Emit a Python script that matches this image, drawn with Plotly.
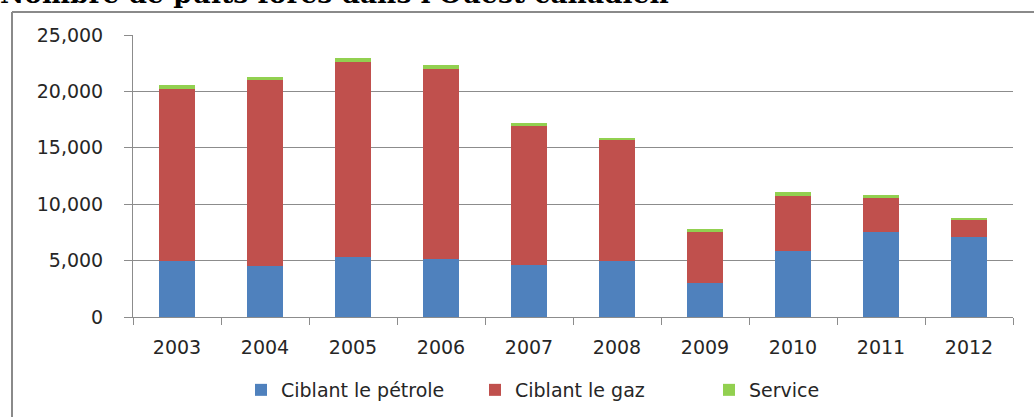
import plotly.graph_objects as go

years = ["2003", "2004", "2005", "2006", "2007", "2008", "2009", "2010", "2011", "2012"]
oil = [4950, 4550, 5300, 5150, 4650, 4950, 3050, 5850, 7550, 7050]
gas = [15250, 16500, 17300, 16800, 12250, 10700, 4450, 4850, 3000, 1550]
service = [370, 240, 350, 390, 290, 260, 270, 380, 270, 90]
series_names = ["Ciblant le pétrole", "Ciblant le gaz", "Service"]
colors = ["#4F81BD", "#C0504D", "#92D050"]
title = "Nombre de puits forés dans l'Ouest canadien"

W, H = 1034, 417
L, R, T, B = 133, 21, 35, 100
pw, ph = W - L - R, H - T - B

def px_x(x):
    return (x - L) / pw

def px_y(y):
    return (H - B - y) / ph

fig = go.Figure()
for name, vals, c in zip(series_names, [oil, gas, service], colors):
    fig.add_trace(go.Bar(x=years, y=vals, name=name, marker=dict(color=c, line=dict(width=0))))

font = "DejaVu Sans"
grid = "#8C8C8C"
fig.update_layout(
    width=W, height=H,
    margin=dict(l=L, r=R, t=T, b=B, pad=0, autoexpand=False),
    barmode="stack", bargap=0.6,
    plot_bgcolor="white", paper_bgcolor="white",
    font=dict(family=font, size=19, color="#262626"),
    showlegend=True,
    legend=dict(orientation="h", x=px_x(241), xanchor="left", y=px_y(390), yanchor="middle",
                font=dict(family=font, size=19, color="#262626"), traceorder="normal",
                itemwidth=30, entrywidth=189, bgcolor="rgba(0,0,0,0)"),
    xaxis=dict(type="category", showgrid=False, showline=True, linecolor=grid, linewidth=1,
               ticks="outside", tickson="boundaries", ticklen=7, tickcolor=grid,
               ticklabelstandoff=13, automargin=False,
               tickfont=dict(family=font, size=19, color="#262626")),
    yaxis=dict(range=[0, 25000], dtick=5000, tickformat=",", showgrid=True, gridcolor=grid,
               gridwidth=1, showline=True, linecolor=grid, linewidth=1, ticks="outside",
               ticklen=8, tickcolor=grid, ticklabelstandoff=17, zeroline=False, automargin=False,
               tickfont=dict(family=font, size=19, color="#262626")),
    shapes=[
        dict(type="line", xref="paper", yref="paper", x0=px_x(12), x1=px_x(W + 10),
             y0=px_y(12), y1=px_y(12), line=dict(color="#8A8A8A", width=2)),
        dict(type="line", xref="paper", yref="paper", x0=px_x(12), x1=px_x(12),
             y0=px_y(12), y1=px_y(H + 10), line=dict(color="#8A8A8A", width=2)),
    ],
    annotations=[
        dict(text="<b>" + title + "</b>", xref="paper", yref="paper", x=px_x(-2), xanchor="left",
             y=px_y(11), yanchor="bottom", showarrow=False,
             font=dict(family="DejaVu Serif", size=26.5, color="black")),
    ],
)

fig.write_html("out.html", config={"displayModeBar": False},
               post_script="document.body.style.margin='0';document.body.style.overflow='hidden';")
